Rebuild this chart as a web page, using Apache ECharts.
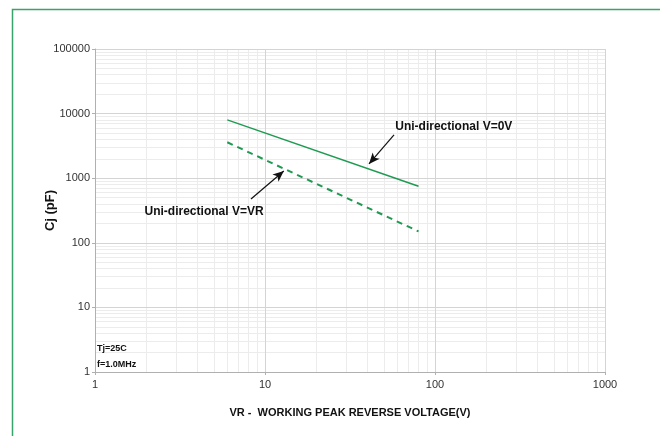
<!DOCTYPE html>
<html><head><meta charset="utf-8">
<script src="https://cdn.jsdelivr.net/npm/echarts@6/dist/echarts.min.js"></script>
<style>html,body{margin:0;padding:0;background:#fff}#c{width:660px;height:436px}</style>
</head><body><div id="c"></div>
<script>
// Data
const uniZero = [[6, 8000], [80, 750]];       // Uni-directional V=0V
const uniVR   = [[6, 3600], [80, 150]];       // Uni-directional V=VR
const xTicks = [1, 10, 100, 1000];
const yTicks = [1, 10, 100, 1000, 10000, 100000];
const xMinor = [2,3,4,5,6,7,8,9,20,30,40,50,60,70,80,90,200,300,400,500,600,700,800,900];
const yMinor = [2,3,4,5,6,7,8,9,20,30,40,50,60,70,80,90,200,300,400,500,600,700,800,900,
                2000,3000,4000,5000,6000,7000,8000,9000,20000,30000,40000,50000,60000,70000,80000,90000];
const arrowZero = [[57.4, 4667], [40.9, 1660]];
const arrowVR   = [[8.27, 476], [12.9, 1292]];
const labelZero = {text: 'Uni-directional V=0V', at: [129, 6207]};
const labelVR   = {text: 'Uni-directional V=VR', at: [4.38, 300]};
const notes = ['Tj=25C', 'f=1.0MHz'];

const FONT = '"Liberation Sans Narrow","Liberation Sans",Arial,sans-serif';
const GREEN = '#1f9a52';

const chart = echarts.init(document.getElementById('c'));
const minorLines = xMinor.map(v => ({xAxis: v})).concat(yMinor.map(v => ({yAxis: v})));

chart.setOption({
  animation: false,
  grid: {left: 95, right: 55, top: 49, bottom: 64, containLabel: false},
  xAxis: {
    type: 'log', logBase: 10, min: xTicks[0], max: xTicks[xTicks.length - 1], splitNumber: 3,
    name: 'VR -  WORKING PEAK REVERSE VOLTAGE(V)', nameLocation: 'middle', nameGap: 35,
    nameMoveOverlap: false,
    nameTextStyle: {fontFamily: FONT, fontWeight: 'bold', fontSize: 11, color: '#111'},
    axisLine: {lineStyle: {color: '#b0b0b0', width: 1}},
    axisTick: {show: true, length: 3, lineStyle: {color: '#b0b0b0'}},
    axisLabel: {fontFamily: FONT, fontSize: 11, color: '#333', margin: 7, formatter: v => String(v)},
    splitLine: {show: true, lineStyle: {color: '#d4d4d4', width: 1}},
    minorTick: {show: false}, minorSplitLine: {show: false}, z: 2
  },
  yAxis: {
    type: 'log', logBase: 10, min: yTicks[0], max: yTicks[yTicks.length - 1], splitNumber: 5,
    name: 'Cj (pF)', nameLocation: 'middle', nameGap: 38, nameRotate: 90,
    nameMoveOverlap: false,
    nameTextStyle: {fontFamily: FONT, fontWeight: 'bold', fontSize: 13, color: '#111'},
    axisLine: {show: true, lineStyle: {color: '#b0b0b0', width: 1}},
    axisTick: {show: true, length: 3, lineStyle: {color: '#b0b0b0'}},
    axisLabel: {fontFamily: FONT, fontSize: 11, color: '#333', margin: 5, formatter: v => String(v)},
    splitLine: {show: true, lineStyle: {color: '#d4d4d4', width: 1}}, z: 2
  },
  series: [
    {
      type: 'line', data: [], silent: true, z: 1, zlevel: 0,
      markLine: {silent: true, z: 0, symbol: ['none', 'none'], label: {show: false},
        lineStyle: {color: '#ececec', width: 1, type: 'solid'}, data: minorLines, animation: false}
    },
    {
      name: 'Uni-directional V=0V', type: 'line', data: uniZero, showSymbol: false, z: 10,
      lineStyle: {color: GREEN, width: 1.5, type: 'solid'},
      markLine: {silent: true, z: 12, symbol: ['none', 'arrow'], symbolSize: [7, 11], label: {show: false},
        itemStyle: {color: '#111'},
        lineStyle: {color: '#111', width: 1.2, type: 'solid'},
        data: [[{coord: arrowZero[0]}, {coord: arrowZero[1]}]]},
      markPoint: {symbol: 'circle', symbolSize: 0, silent: true, z: 12,
        data: [{coord: labelZero.at, label: {show: true, formatter: labelZero.text, position: 'inside',
          fontFamily: FONT, fontWeight: 'bold', fontSize: 12, color: '#111'}}]}
    },
    {
      name: 'Uni-directional V=VR', type: 'line', data: uniVR, showSymbol: false, z: 10,
      lineStyle: {color: GREEN, width: 2, type: [6, 5]},
      markLine: {silent: true, z: 12, symbol: ['none', 'arrow'], symbolSize: [7, 11], label: {show: false},
        itemStyle: {color: '#111'},
        lineStyle: {color: '#111', width: 1.2, type: 'solid'},
        data: [[{coord: arrowVR[0]}, {coord: arrowVR[1]}]]},
      markPoint: {symbol: 'circle', symbolSize: 0, silent: true, z: 12,
        data: [{coord: labelVR.at, label: {show: true, formatter: labelVR.text, position: 'inside',
          fontFamily: FONT, fontWeight: 'bold', fontSize: 12, color: '#111'}}]}
    }
  ],
  graphic: [
    {type: 'rect', shape: {x: 12.5, y: 9.5, width: 660, height: 440},
     style: {fill: 'none', stroke: '#38a36a', lineWidth: 1.5}, z: 100, silent: true},
    {type: 'text', left: 97, top: 341, style: {text: notes.join('\n'), lineHeight: 16,
      fontFamily: FONT, fontWeight: 'bold', fontSize: 9, fill: '#111'}, z: 50}
  ]
});
</script></body></html>
